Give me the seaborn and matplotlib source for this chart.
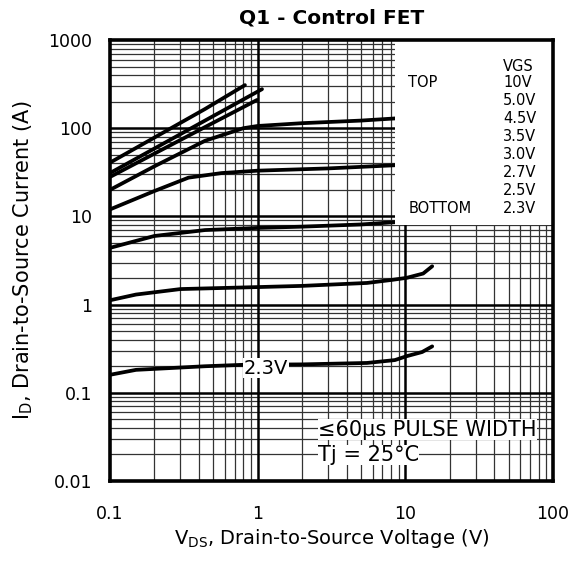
import numpy as np
import pandas as pd
import matplotlib
matplotlib.use("Agg")
import matplotlib.pyplot as plt
from matplotlib.patches import Rectangle
from matplotlib.ticker import FixedLocator, NullFormatter
import seaborn as sns

# ---- data ----
vgs_labels = ["10V", "5.0V", "4.5V", "3.5V", "3.0V", "2.7V", "2.5V", "2.3V"]

vds_10 = [0.1, 0.44, 0.82]
id_10 = [40.7, 165, 308]
vds_50 = [0.1, 0.44, 1.07]
id_50 = [31, 122, 277]
vds_45 = [0.1, 0.44, 0.99]
id_45 = [28, 103, 209]
vds_35 = [0.1, 0.2, 0.44, 0.8, 1.0, 2.0, 5.0, 8.5, 15]
id_35 = [20, 37, 72, 100, 106, 114, 122, 129, 133]
vds_30 = [0.1, 0.2, 0.34, 0.57, 1.0, 3.0, 8.5, 15]
id_30 = [12, 19.4, 27.5, 31, 33, 35, 38, 39]
vds_27 = [0.1, 0.2, 0.44, 1.0, 2.0, 5.0, 8.5, 15]
id_27 = [4.4, 6.0, 7.0, 7.4, 7.65, 8.1, 8.6, 9.0]
vds_25 = [0.1, 0.15, 0.3, 1.0, 2.0, 5.5, 8.0, 10.2, 13.2, 15.2]
id_25 = [1.12, 1.3, 1.5, 1.58, 1.63, 1.76, 1.9, 2.01, 2.25, 2.72]
vds_23 = [0.1, 0.15, 0.44, 0.82, 2.0, 5.5, 8.5, 10.2, 13.0, 15.2]
id_23 = [0.16, 0.182, 0.2, 0.208, 0.21, 0.218, 0.235, 0.26, 0.29, 0.336]

x_ticks = [0.1, 1, 10, 100]
x_tick_labels = ["0.1", "1", "10", "100"]
y_ticks = [0.01, 0.1, 1, 10, 100, 1000]
y_tick_labels = ["0.01", "0.1", "1", "10", "100", "1000"]

curves = [vds_10, vds_50, vds_45, vds_35, vds_30, vds_27, vds_25, vds_23]
currents = [id_10, id_50, id_45, id_35, id_30, id_27, id_25, id_23]
frames = []
for lab, xs, ys in zip(vgs_labels, curves, currents):
    frames.append(pd.DataFrame({"VDS": xs, "ID": ys, "VGS": lab}))
df = pd.concat(frames, ignore_index=True)

# ---- style ----
sns.set_style("white")
plt.rcParams["font.family"] = ["DejaVu Sans"]
plt.rcParams["mathtext.fontset"] = "dejavusans"
plt.rcParams["text.color"] = "black"
plt.rcParams["axes.labelcolor"] = "black"
plt.rcParams["xtick.color"] = "black"
plt.rcParams["ytick.color"] = "black"
plt.rcParams["axes.titlecolor"] = "black"

fig = plt.figure(figsize=(5.72, 5.67), dpi=100)
ax = fig.add_axes([110 / 572, 86 / 567, 443 / 572, 441 / 567])

ax.set_xscale("log")
ax.set_yscale("log")
ax.set_xlim(0.1, 100)
ax.set_ylim(0.01, 1000)

sns.lineplot(data=df, x="VDS", y="ID", hue="VGS", units="VGS", estimator=None,
             sort=False, palette={k: "black" for k in vgs_labels}, legend=False,
             linewidth=2.7, ax=ax, zorder=4)

# grid
minor_x = [m * 10.0 ** e for e in range(-1, 2) for m in range(2, 10)]
minor_y = [m * 10.0 ** e for e in range(-2, 3) for m in range(2, 10)]
for v in minor_x:
    ax.axvline(v, color="#333333", lw=0.9, zorder=1)
for v in minor_y:
    ax.axhline(v, color="#333333", lw=0.9, zorder=1)
for v in x_ticks[1:-1]:
    ax.axvline(v, color="black", lw=1.8, zorder=1)
for v in y_ticks[1:-1]:
    ax.axhline(v, color="black", lw=1.8, zorder=1)

ax.xaxis.set_major_locator(FixedLocator(x_ticks))
ax.yaxis.set_major_locator(FixedLocator(y_ticks))
ax.set_xticklabels(x_tick_labels)
ax.set_yticklabels(y_tick_labels)
ax.xaxis.set_minor_formatter(NullFormatter())
ax.yaxis.set_minor_formatter(NullFormatter())
ax.tick_params(which="both", length=0)
ax.tick_params(axis="x", pad=17, labelsize=12.5, labelcolor="black")
ax.tick_params(axis="y", pad=13, labelsize=12.5, labelcolor="black")

for s in ax.spines.values():
    s.set_linewidth(2.6)
    s.set_color("black")
    s.set_zorder(6)

# legend box (white panel in upper right)
ax.add_patch(Rectangle((8.5, 7.9), 100 - 8.5, 1000 - 7.9, facecolor="white",
                       edgecolor="none", zorder=5))
ax.text(0.887, 0.940, "VGS", transform=ax.transAxes, fontsize=10.5, va="center", zorder=7)
ys0 = 0.904
step = 0.0408
for i, lab in enumerate(vgs_labels):
    ax.text(0.887, ys0 - i * step, lab, transform=ax.transAxes, fontsize=10.5,
            va="center", zorder=7)
ax.text(0.673, ys0, "TOP", transform=ax.transAxes, fontsize=10.5, va="center", zorder=7)
ax.text(0.673, ys0 - 7 * step, "BOTTOM", transform=ax.transAxes, fontsize=10.5,
        va="center", zorder=7)

# curve label
ax.text(1.14, 0.19, "2.3V", fontsize=14, ha="center", va="center", zorder=8,
        bbox=dict(facecolor="white", edgecolor="none", pad=0.5))

# condition text
ax.text(2.56, 0.038, "\u226460\u00b5s PULSE WIDTH", fontsize=15, ha="left", va="center",
        zorder=8, bbox=dict(facecolor="white", edgecolor="none", pad=0.3))
ax.text(2.56, 0.0197, "Tj = 25\u00b0C", fontsize=15, ha="left", va="center",
        zorder=8, bbox=dict(facecolor="white", edgecolor="none", pad=0.3))

ax.set_xlabel(r"V$_{\mathrm{DS}}$, Drain-to-Source Voltage (V)", fontsize=14, labelpad=3)
ax.set_ylabel(r"I$_{\mathrm{D}}$, Drain-to-Source Current (A)", fontsize=15, labelpad=9)
ax.set_title("Q1 - Control FET", fontsize=14.5, fontweight="bold", pad=12)

fig.savefig("out.png", dpi=100)
